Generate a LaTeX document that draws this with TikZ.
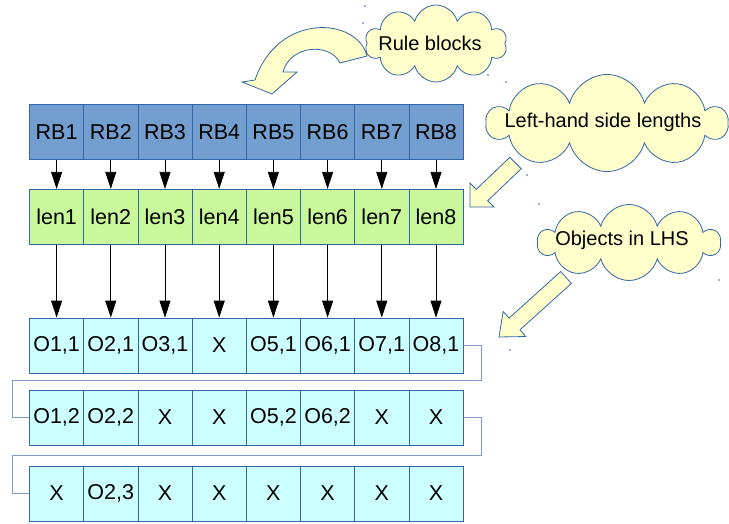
\documentclass[tikz,border=0pt]{standalone}
\usepackage{fontspec}
\setmainfont{Liberation Sans}
\usetikzlibrary{arrows.meta,shapes.symbols}

\definecolor{rbfill}{HTML}{729FCF}
\definecolor{edgeblue}{HTML}{3465A4}
\definecolor{lenfill}{HTML}{C8F89A}
\definecolor{objfill}{HTML}{CCFFFF}
\definecolor{notefill}{HTML}{FFFFCC}
\definecolor{linkblue}{HTML}{7F9CC9}

\tikzset{
  cell/.style={draw=edgeblue, line width=0.8pt, minimum width=54.2pt,
    minimum height=55pt, inner sep=0pt, font=\fontsize{21.5}{25}\selectfont},
  rbcell/.style={cell, fill=rbfill},
  lencell/.style={cell, fill=lenfill},
  objcell/.style={cell, fill=objfill},
  down/.style={-{Triangle[width=11pt,length=17pt]}, line width=0.8pt, black},
  link/.style={draw=linkblue, line width=1pt},
  cloudy/.style={cloud, cloud puffs=10, cloud ignores aspect, draw=edgeblue,
    fill=notefill, line width=0.8pt, inner sep=0pt},
  notetext/.style={font=\fontsize{20}{24}\selectfont, inner sep=0pt},
  blockarrow/.style={draw=edgeblue, fill=notefill, line width=0.8pt, line join=miter},
  speck/.style={fill=edgeblue, draw=none}
}

\begin{document}
\begin{tikzpicture}[x=1pt, y=-1pt]
\useasboundingbox (0,0) rectangle (729,523);

% rows of cells
\foreach \i in {1,...,8} {
  \pgfmathsetmacro{\cx}{29.5+54.2*(\i-0.5)}
  \node[rbcell]  (rb\i)  at (\cx,131.8) {RB\i};
  \node[lencell] (len\i) at (\cx,216.8) {len\i};
}
\foreach \i/\a/\b/\c in {1/{O1,1}/{O1,2}/X, 2/{O2,1}/{O2,2}/{O2,3}, 3/{O3,1}/X/X, 4/X/X/X,
                         5/{O5,1}/{O5,2}/X, 6/{O6,1}/{O6,2}/X, 7/{O7,1}/X/X, 8/{O8,1}/X/X} {
  \pgfmathsetmacro{\cx}{29.5+54.2*(\i-0.5)}
  \node[objcell] (oa\i) at (\cx,345.5) {\a};
  \node[objcell] (ob\i) at (\cx,417.5) {\b};
  \node[objcell] (oc\i) at (\cx,493.5) {\c};
}

% pointers between the rows
\foreach \i in {1,...,8} {
  \draw[down] (rb\i.south) -- (len\i.north);
  \draw[down] (len\i.south) -- (oa\i.north);
}

% wrap-around links between object rows
\coordinate (wa) at (481,380);
\coordinate (wb) at (481,455.5);
\draw[link] (oa8.east) -| (wa) -| (12,0 |- ob1.west) -- (ob1.west);
\draw[link] (ob8.east) -| (wb) -| (12,0 |- oc1.west) -- (oc1.west);

% call-out clouds
\node[cloudy, minimum width=142pt, minimum height=77pt] (c1) at (436,43.5) {};
\node[notetext] at (430,43) {Rule blocks};
\node[cloudy, minimum width=240pt, minimum height=97pt] (c2) at (607,123) {};
\node[notetext] at (603,122) {Left-hand side lengths};
\node[cloudy, minimum width=182pt, minimum height=76pt] (c3) at (629,242.5) {};
\node[notetext] at (622,240) {Objects in LHS};

% curved arrow from the first cloud
\draw[blockarrow] (367,56) .. controls (357,17) and (278,12) .. (255,80)
  -- (242,82) -- (272,94) -- (297,72) -- (283,72)
  .. controls (290,45) and (330,42) .. (340,63) -- cycle;

% straight arrows from the other clouds
\draw[blockarrow] (509.8,157.3) -- (476.3,189.3) -- (470,183) -- (470,207)
  -- (494,207) -- (487.7,200.7) -- (521.2,168.7) -- cycle;
\draw[blockarrow] (560.6,271.6) -- (509.1,318.1) -- (503.2,311.5) -- (499,337)
  -- (525.8,336.5) -- (519.9,329.9) -- (571.4,283.4) -- cycle;

% small specks
\foreach \p in {(365,6),(363,23),(488,75),(506,82),(527,175),(539,204),(719,280),(510,350)}
  \fill[speck] \p circle (0.9);
\end{tikzpicture}
\end{document}
